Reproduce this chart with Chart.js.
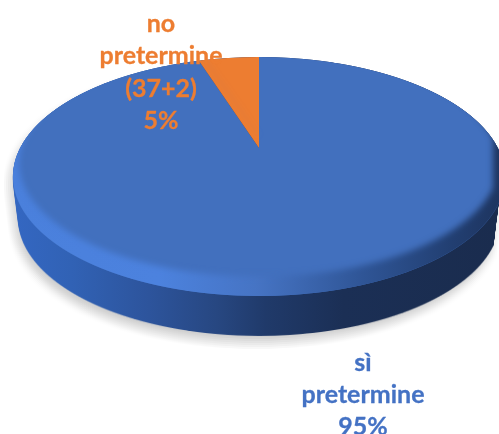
<!DOCTYPE html>
<html>
<head>
<meta charset="utf-8">
<style>
  html, body { margin: 0; padding: 0; background: #fff; overflow: hidden; }
  canvas { display: block; }
</style>
<script src="https://cdn.jsdelivr.net/npm/chart.js@4/dist/chart.umd.min.js"></script>
</head>
<body>
<canvas id="pie" width="499" height="434"></canvas>
<script>
const categories = ['sì pretermine', 'no pretermine (37+2)'];
const shares = [95, 5];
const sliceColors = ['#4270BE', '#ED7D31'];
const labelLines = [
  ['sì', 'pretermine', '95%'],
  ['no', 'pretermine', '(37+2)', '5%']
];
const labelColors = ['#4472C4', '#ED7D31'];

// Tilted disc seen in perspective: screen rows of the far edge, the hub and the near edge.
const farY = 57, hubY = 148, nearY = 296, halfWidth = 246, discX = 259, wallDepth = 40;
const discCentreY = (farY + nearY) / 2;
const W = 499, H = 434;

const c = (2 * hubY - farY - nearY) / (nearY - farY);
const a = nearY * (1 + c) - hubY;
const k = halfWidth * Math.sqrt(1 - c * c);

function layer() {
  const cv = document.createElement('canvas');
  cv.width = W; cv.height = H;
  return cv;
}

// Draws the arcs row by row through the projective mapping of the disc plane.
function drawProjected(ctx, arcs) {
  const first = arcs[0];
  const R = first.outerRadius, x0 = first.x, y0 = first.y;
  for (let Y = farY - 1; Y <= nearY + 1; Y++) {
    const yc = Y + 0.5;
    const v = (hubY - yc) / (c * yc - a);
    if (v < -1.02 || v > 1.02) continue;
    const den = 1 + c * v;
    const sx = k / den / R;
    const sy = (a - hubY * c) / (den * den) / R;
    ctx.save();
    ctx.setTransform(1, 0, 0, 1, 0, 0);
    ctx.beginPath();
    ctx.rect(0, Y, W, 1);
    ctx.clip();
    ctx.setTransform(sx, 0, 0, sy, discX - sx * x0, yc - sy * (y0 + v * R));
    arcs.forEach(el => el.draw(ctx));
    ctx.restore();
  }
}

const tiltedPie = {
  id: 'tiltedPie',
  beforeDatasetsDraw(chart) {
    const ctx = chart.ctx;
    const arcs = chart.getDatasetMeta(0).data;

    const face = layer();
    drawProjected(face.getContext('2d'), arcs);

    // Side wall: the disc outline stacked downward, narrowing a little with depth.
    const wall = layer();
    const wc = wall.getContext('2d');
    for (let d = wallDepth; d >= 0; d--) {
      const t = d / wallDepth;
      const sc = 1 - 0.022 * t;
      wc.setTransform(sc, 0, 0, sc, discX * (1 - sc), discCentreY * (1 - sc) + d + 2.5 * t);
      wc.drawImage(face, 0, 0);
    }
    wc.setTransform(1, 0, 0, 1, 0, 0);

    wc.globalCompositeOperation = 'source-in';
    wc.fillStyle = '#000';
    wc.fillRect(0, 0, W, H);

    // Soft cast shadow: the silhouette accumulated over a small grid of offsets.
    ctx.save();
    const spread = 7, step = 2, count = Math.pow(2 * Math.floor(spread / step) + 1, 2);
    ctx.globalAlpha = 0.2 / count;
    for (let dx = -spread + 1; dx <= spread; dx += step) {
      for (let dy = -spread + 1; dy <= spread; dy += step) {
        ctx.drawImage(wall, dx - 3, dy + 7);
      }
    }
    ctx.restore();

    const wg = wc.createLinearGradient(13, 0, 499, 0);
    wg.addColorStop(0.00, '#3467C2');
    wg.addColorStop(0.12, '#3162B5');
    wg.addColorStop(0.28, '#2D549C');
    wg.addColorStop(0.42, '#274781');
    wg.addColorStop(0.52, '#203A6A');
    wg.addColorStop(0.68, '#1B2F55');
    wg.addColorStop(1.00, '#1A2C4E');
    wc.fillStyle = wg;
    wc.fillRect(0, 0, W, H);
    ctx.drawImage(wall, 0, 0);

    // Bevel along the near rim of the top face.
    const rim = layer();
    const rc = rim.getContext('2d');
    const rg = rc.createLinearGradient(13, 0, 499, 0);
    rg.addColorStop(0.00, '#4A80DC');
    rg.addColorStop(0.30, '#4C82DE');
    rg.addColorStop(0.50, '#4674C4');
    rg.addColorStop(0.72, '#2F5596');
    rg.addColorStop(0.90, '#223F72');
    rg.addColorStop(1.00, '#1E3560');
    rc.fillStyle = rg;
    rc.fillRect(0, 0, W, H);
    rc.globalCompositeOperation = 'destination-out';
    rc.filter = 'blur(3px)';
    const ix = 0.975, iy = 0.95;
    rc.setTransform(ix, 0, 0, iy, discX * (1 - ix), farY * (1 - iy));
    rc.drawImage(face, 0, -8);
    rc.setTransform(1, 0, 0, 1, 0, 0);
    rc.filter = 'none';
    rc.globalCompositeOperation = 'destination-in';
    rc.drawImage(face, 0, 0);

    ctx.drawImage(face, 0, 0);
    ctx.drawImage(rim, 0, 0);
    return false;
  },
  afterDraw(chart) {
    // Multi-line data labels, centred on their own columns.
    const ctx = chart.ctx;
    const anchors = [{ x: 363, y: 370.5 }, { x: 161, y: 32 }];
    ctx.save();
    ctx.font = 'bold 25px Lato';
    ctx.textAlign = 'center';
    ctx.textBaseline = 'alphabetic';
    ctx.lineWidth = 0.3;
    labelLines.forEach((lines, i) => {
      ctx.fillStyle = labelColors[i];
      ctx.strokeStyle = labelColors[i];
      lines.forEach((line, j) => {
        const y = anchors[i].y + j * 32.3;
        ctx.fillText(line, anchors[i].x, y);
        ctx.strokeText(line, anchors[i].x, y);
      });
    });
    ctx.restore();
  }
};

new Chart(document.getElementById('pie'), {
  type: 'pie',
  data: {
    labels: categories,
    datasets: [{ data: shares, backgroundColor: sliceColors, borderWidth: 0 }]
  },
  options: {
    responsive: false,
    animation: false,
    plugins: { legend: { display: false }, tooltip: { enabled: false } }
  },
  plugins: [tiltedPie]
});
</script>
</body>
</html>
